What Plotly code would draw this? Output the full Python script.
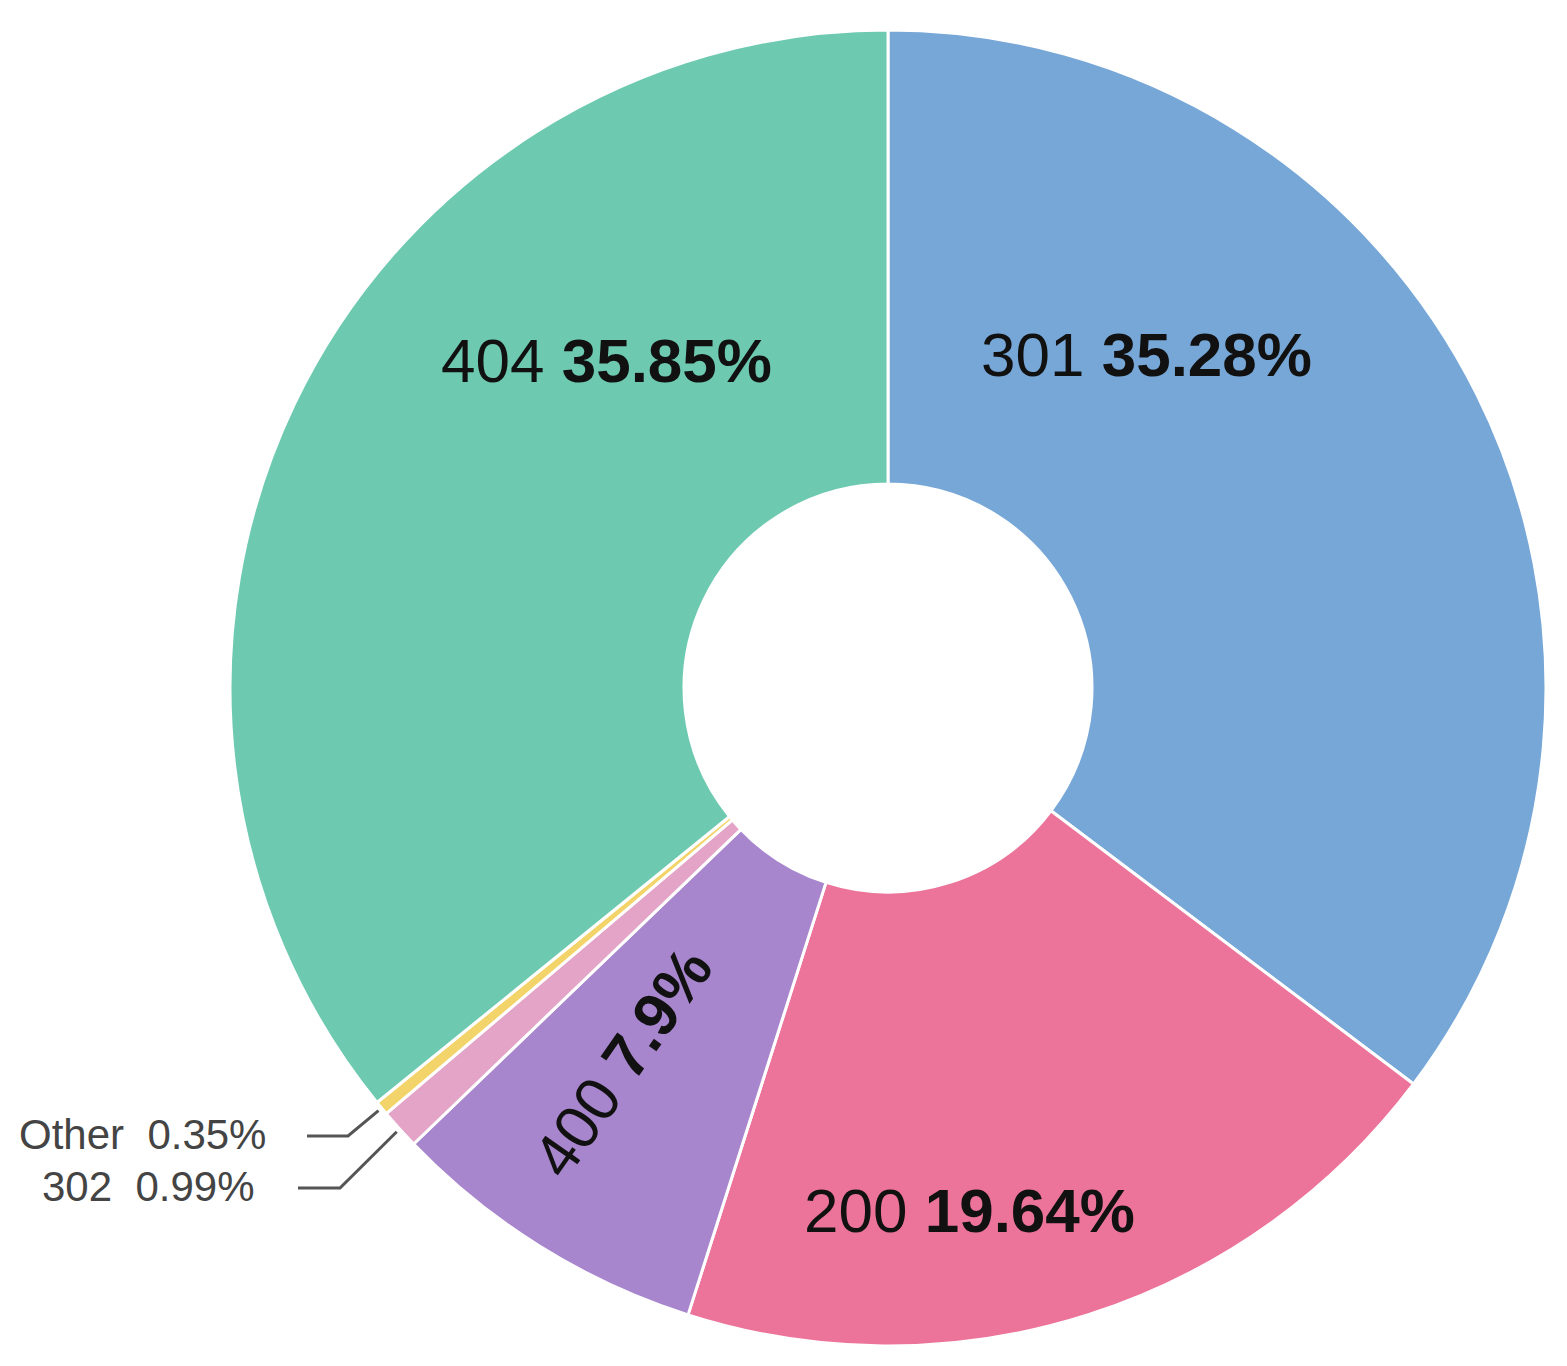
import math
import plotly.graph_objects as go

# HTTP status share (%), clockwise from 12 o'clock
codes = ["301", "200", "400", "302", "Other", "404"]
shares = [35.28, 19.64, 7.9, 0.99, 0.35, 35.85]
colors = ["#77A7D7", "#EC749A", "#A886CE", "#E3A4C7", "#F3D46B", "#6DCAB0"]

W, H = 1567, 1366
OFF = 8                      # page body margin of the written html
CX, CY, R = 888, 688, 658    # pie centre / radius on the page, px
FONT = "Liberation Sans, Arial, sans-serif"

# label placement on the page (px); text comes from the data above
inside_pos = {"301": (1146, 354, 0), "200": (970, 1210, 0),
              "400": (622, 1062, -55), "404": (606, 360, 0)}
outside_pos = {"Other": (268, 1134, 348, 307), "302": (257, 1186, 340, 298)}


def px(x):
    return (x - OFF) / W


def py(y):
    return 1 - (y - OFF) / H


fig = go.Figure(go.Pie(
    labels=codes,
    values=shares,
    sort=False,
    direction="clockwise",
    rotation=0,
    hole=0.31,
    marker=dict(colors=colors, line=dict(color="white", width=3)),
    textinfo="none",
    domain=dict(x=[px(CX - R), px(CX + R)], y=[py(CY + R), py(CY - R)]),
    showlegend=False,
))

# bold-percentage labels inside the big slices
for code, share in zip(codes, shares):
    if code in inside_pos:
        x, y, ang = inside_pos[code]
        fig.add_annotation(
            x=px(x), y=py(y), xref="paper", yref="paper",
            text=f"{code} <b>{share:g}%</b>", textangle=ang,
            showarrow=False, xanchor="center", yanchor="middle",
            font=dict(family=FONT, size=62, color="#111111"),
        )

# small slices: grey labels with elbow leader lines
total = sum(shares)
cum = 0
for code, share in zip(codes, shares):
    mid = (cum + share / 2) / total * 2 * math.pi
    cum += share
    if code not in outside_pos:
        continue
    tx, ty, ex, lx = outside_pos[code]
    sx = CX + (R + 4) * math.sin(mid)
    sy = CY - (R + 4) * math.cos(mid)
    fig.add_shape(
        type="path", xref="paper", yref="paper",
        path=f"M {px(sx)} {py(sy)} L {px(ex)} {py(ty + 2)} L {px(lx)} {py(ty + 2)}",
        line=dict(color="#555555", width=3),
    )
    fig.add_annotation(
        x=px(tx), y=py(ty), xref="paper", yref="paper",
        text=f"{code}  {share:g}%", showarrow=False,
        xanchor="right", yanchor="middle",
        font=dict(family=FONT, size=42, color="#444444"),
    )

fig.update_layout(
    width=W,
    height=H,
    paper_bgcolor="white",
    plot_bgcolor="white",
    margin=dict(l=0, r=0, t=0, b=0),
    showlegend=False,
)

fig.write_html("out.html")
